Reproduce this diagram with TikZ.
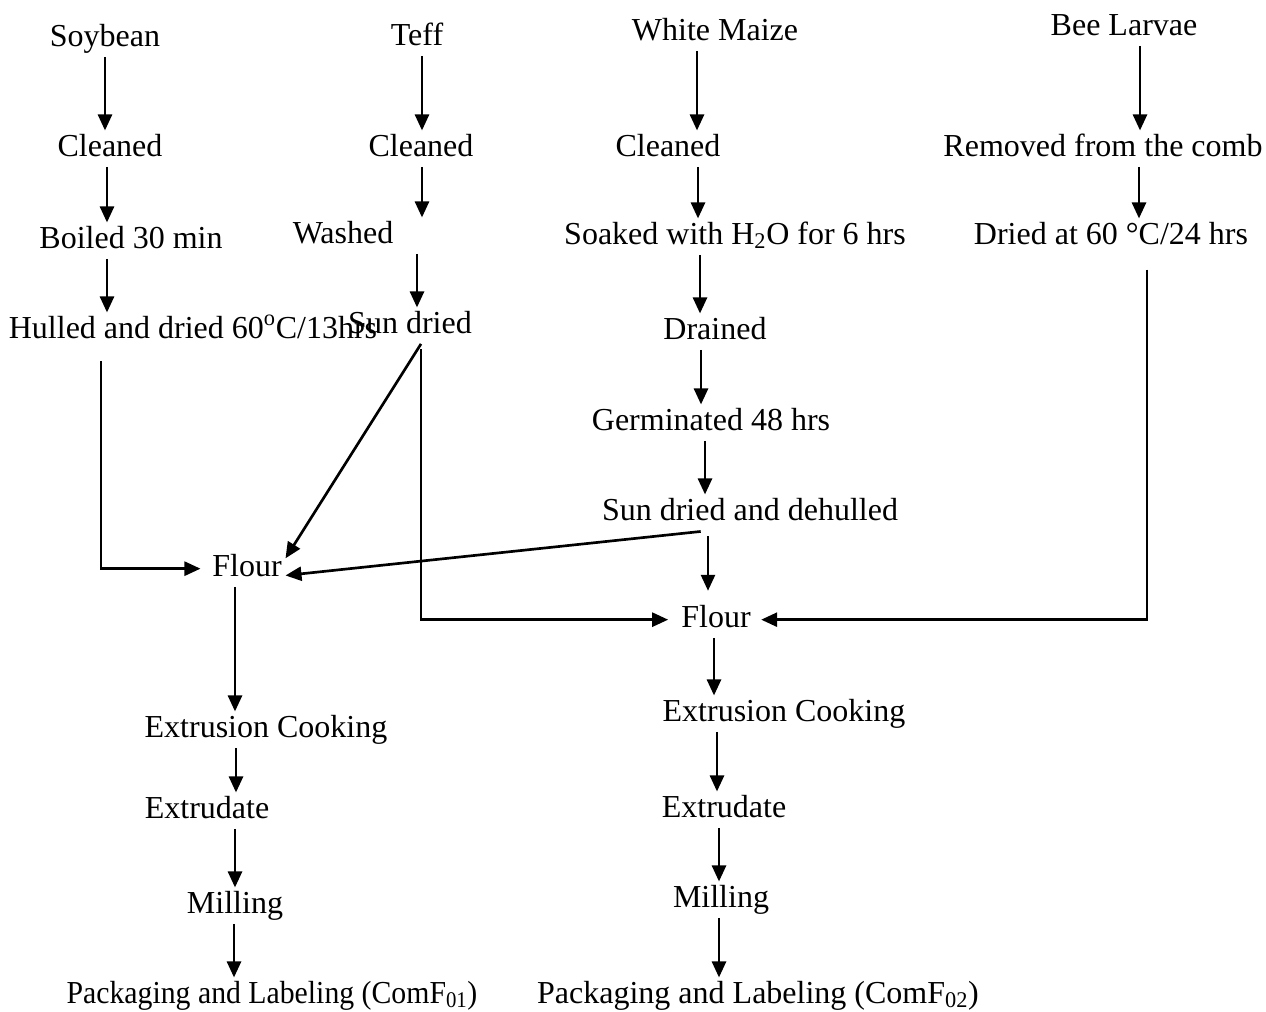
\documentclass[tikz,border=0pt]{standalone}
\usepackage{fontspec}
\setmainfont{Liberation Serif}
\usetikzlibrary{arrows.meta}

\tikzset{every picture/.style={line width=0.75pt}}
\tikzset{
  lbl/.style={font=\fontsize{24}{28}\selectfont, anchor=base, inner sep=2.5pt, text height=16.3pt, text depth=5.3pt},
  flow/.style={line width=2pt, -{Triangle[length=12pt,width=10.5pt]}}
}

\begin{document}
\begin{tikzpicture}[x=0.75pt,y=0.75pt,yscale=-1,xscale=1]
\useasboundingbox (0,0) rectangle (1266,1011);

% Text Node
\draw (105,46) node [lbl] (soy) {Soybean};
% Text Node
\draw (110,156) node [lbl] (cla) {Cleaned};
% Text Node
\draw (131,248) node [lbl] (boi) {Boiled 30 min};
% Text Node
\draw (193,338) node [lbl] (hul) {Hulled and dried 60\textsuperscript{o}C/13hrs};
% Text Node
\draw (417,45) node [lbl] (tef) {Teff};
% Text Node
\draw (421,156) node [lbl] (clb) {Cleaned};
% Text Node
\draw (343,243) node [lbl] (was) {Washed};
% Text Node
\draw (410,333) node [lbl] (sun) {Sun dried};
% Text Node
\draw (715,40) node [lbl] (mai) {White Maize};
% Text Node
\draw (668,156) node [lbl] (clc) {Cleaned};
% Text Node
\draw (735,244) node [lbl] (soa) {Soaked with H\textsubscript{2}O for 6 hrs};
% Text Node
\draw (715,339) node [lbl] (dra) {Drained};
% Text Node
\draw (711,430) node [lbl] (ger) {Germinated 48 hrs};
% Text Node
\draw (750,520) node [lbl] (sdd) {Sun dried and dehulled};
% Text Node
\draw (1124,35) node [lbl] (bee) {Bee Larvae};
% Text Node
\draw (1103,156) node [lbl] (rem) {Removed from the comb};
% Text Node
\draw (1111,244) node [lbl] (dri) {Dried at 60 °C/24 hrs};
% Text Node
\draw (247,576) node [lbl] (flo1) {Flour};
% Text Node
\draw (716,627) node [lbl] (flo2) {Flour};
% Text Node
\draw (266,737) node [lbl] (ext1) {Extrusion Cooking};
% Text Node
\draw (207,818) node [lbl] (exd1) {Extrudate};
% Text Node
\draw (235,913) node [lbl] (mil1) {Milling};
% Text Node
\draw (272,1003) node [lbl] (pac1) {\scalebox{0.93}[1]{Packaging and Labeling (ComF\textsubscript{01})}};
% Text Node
\draw (784,721) node [lbl] (ext2) {Extrusion Cooking};
% Text Node
\draw (724,817) node [lbl] (exd2) {Extrudate};
% Text Node
\draw (721,907) node [lbl] (mil2) {Milling};
% Text Node
\draw (758,1003) node [lbl] (pac2) {Packaging and Labeling (ComF\textsubscript{02})};

%Straight Lines
\draw [flow] (soy.south -| 105,0) -- (cla.north -| 105,0);
\draw [flow] (cla.south -| 107,0) -- (boi.north -| 107,0);
\draw [flow] (boi.south -| 107,0) -- (hul.north -| 107,0);
\draw [flow, shorten <=9pt, shorten >=6pt] (hul.south -| 101,0) |- (flo1.west);

%Straight Lines
\draw [flow] (tef.south -| 422,0) -- (clb.north -| 422,0);
\draw [flow] (clb.south -| 422,0) -- (was.north -| 422,0);
\draw [flow] (was.south -| 417,0) -- (sun.north -| 417,0);
\draw [flow] (sun.south -| 421,0) -- (flo1.15);
\draw [flow, shorten <=4pt, shorten >=7pt] (sun.south -| 421,0) |- (flo2.west);

%Straight Lines
\draw [flow] (mai.south -| 697,0) -- (clc.north -| 697,0);
\draw [flow] (clc.south -| 698,0) -- (soa.north -| 698,0);
\draw [flow] (soa.south -| 700,0) -- (dra.north -| 700,0);
\draw [flow] (dra.south -| 701,0) -- (ger.north -| 701,0);
\draw [flow] (ger.south -| 705,0) -- (sdd.north -| 705,0);
\draw [flow, shorten <=4pt] (sdd.south -| 706,0) -- (flo1.-10);
\draw [flow, shorten <=4pt, shorten >=8pt] (sdd.south -| 708,0) -- (flo2.north -| 708,0);

%Straight Lines
\draw [flow] (bee.south -| 1140,0) -- (rem.north -| 1140,0);
\draw [flow] (rem.south -| 1139,0) -- (dri.north -| 1139,0);
\draw [flow, shorten <=11pt, shorten >=5pt] (dri.south -| 1147,0) |- (flo2.east);

%Straight Lines
\draw [flow] (flo1.south -| 235,0) -- (ext1.north -| 235,0);
\draw [flow] (ext1.south -| 236,0) -- (exd1.north -| 236,0);
\draw [flow] (exd1.south -| 235,0) -- (mil1.north -| 235,0);
\draw [flow] (mil1.south -| 234,0) -- (pac1.north -| 234,0);

%Straight Lines
\draw [flow] (flo2.south -| 714,0) -- (ext2.north -| 714,0);
\draw [flow] (ext2.south -| 717,0) -- (exd2.north -| 717,0);
\draw [flow] (exd2.south -| 719,0) -- (mil2.north -| 719,0);
\draw [flow] (mil2.south -| 719,0) -- (pac2.north -| 719,0);

\end{tikzpicture}
\end{document}
